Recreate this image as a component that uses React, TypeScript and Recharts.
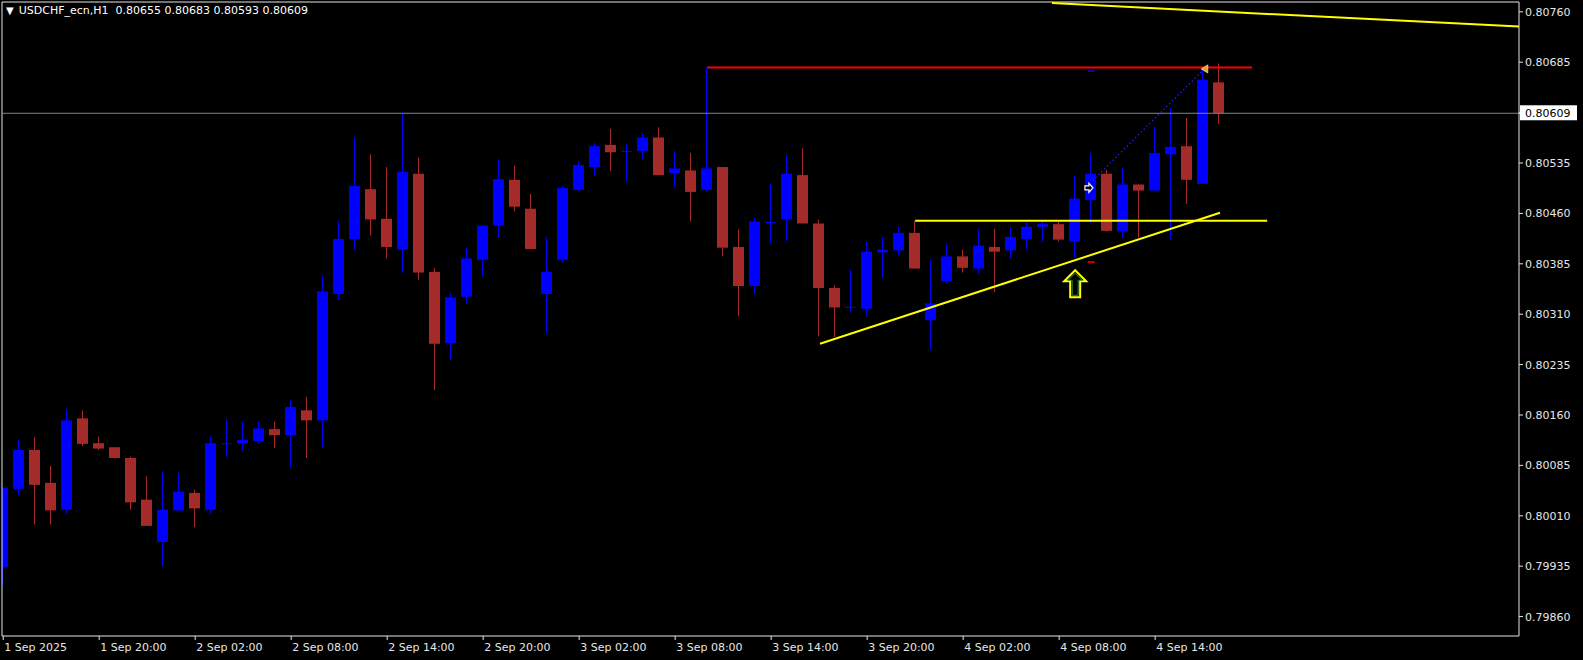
import * as React from "react";
import {
  Bar,
  ComposedChart,
  ReferenceDot,
  ReferenceLine,
  XAxis,
  YAxis,
} from "recharts";

// H1 candles, 1 Sep 14:00 .. 4 Sep 18:00
const opens = [
  0.79933, 0.8005, 0.80108, 0.80059, 0.80019, 0.80155, 0.80118, 0.80112, 0.80096, 0.80034,
  0.79971, 0.80018, 0.80044, 0.80019, 0.80117, 0.80118, 0.80121, 0.80139, 0.8013, 0.80167,
  0.80152, 0.8034, 0.80422, 0.80496, 0.80452, 0.80406, 0.80519, 0.80373, 0.80267, 0.80336,
  0.80391, 0.80442, 0.8051, 0.80467, 0.8034, 0.80391, 0.80495, 0.80529, 0.80562, 0.80552,
  0.80553, 0.80573, 0.8052, 0.80524, 0.80495, 0.80529, 0.8041, 0.80352, 0.80446, 0.80451,
  0.80517, 0.80445, 0.80349, 0.8032, 0.80318, 0.80402, 0.80405, 0.80431, 0.80301, 0.80359,
  0.80396, 0.80378, 0.8041, 0.80405, 0.80422, 0.8044, 0.80444, 0.80418, 0.8048, 0.80519,
  0.80433, 0.80503, 0.80494, 0.80548, 0.8056, 0.80504, 0.80655,
];
const highs = [
  0.80052, 0.80123, 0.80127, 0.80084, 0.80169, 0.80167, 0.80128, 0.80112, 0.80098, 0.80069,
  0.80075, 0.80074, 0.80049, 0.80128, 0.80154, 0.8015, 0.8015, 0.8015, 0.80182, 0.80187,
  0.80367, 0.80449, 0.80573, 0.80548, 0.80529, 0.80608, 0.80543, 0.80379, 0.80342, 0.80409,
  0.80443, 0.80541, 0.80531, 0.80489, 0.80425, 0.80501, 0.80538, 0.80565, 0.80586, 0.80563,
  0.8058, 0.80588, 0.80553, 0.8055, 0.80677, 0.80529, 0.80436, 0.80453, 0.80504, 0.80547,
  0.80557, 0.80451, 0.80353, 0.80376, 0.80418, 0.80425, 0.8044, 0.80449, 0.80391, 0.80415,
  0.80406, 0.80437, 0.80437, 0.8044, 0.80447, 0.8045, 0.80447, 0.80516, 0.8055, 0.80525,
  0.80528, 0.80503, 0.80589, 0.80617, 0.80602, 0.80674, 0.80683,
];
const lows = [
  0.79907, 0.80041, 0.79997, 0.79997, 0.80013, 0.80114, 0.80108, 0.80096, 0.80019, 0.79995,
  0.79935, 0.80018, 0.79993, 0.80013, 0.80098, 0.80107, 0.80117, 0.80111, 0.80081, 0.80096,
  0.80112, 0.80332, 0.80406, 0.80427, 0.80393, 0.80372, 0.80361, 0.80197, 0.80242, 0.80325,
  0.80366, 0.80424, 0.80463, 0.80407, 0.80282, 0.80387, 0.80493, 0.80517, 0.80523, 0.80508,
  0.80541, 0.80517, 0.80499, 0.80448, 0.80492, 0.80396, 0.80307, 0.8034, 0.80415, 0.80419,
  0.80445, 0.80277, 0.80276, 0.80313, 0.80307, 0.80364, 0.80398, 0.80378, 0.80258, 0.80355,
  0.80372, 0.8037, 0.80343, 0.80393, 0.80407, 0.80418, 0.80418, 0.80394, 0.80446, 0.80433,
  0.80424, 0.80424, 0.80494, 0.80421, 0.80474, 0.80504, 0.80593,
];
const closes = [
  0.80052, 0.80108, 0.80056, 0.80018, 0.80152, 0.80117, 0.8011, 0.80096, 0.8003, 0.79995,
  0.80019, 0.80046, 0.80021, 0.80118, 0.80118, 0.80123, 0.8014, 0.8013, 0.80172, 0.80152,
  0.80344, 0.80422, 0.80501, 0.80451, 0.8041, 0.80522, 0.80372, 0.80266, 0.80335, 0.80393,
  0.80442, 0.80511, 0.8047, 0.80407, 0.80373, 0.80498, 0.80532, 0.8056, 0.80551, 0.80553,
  0.80573, 0.80517, 0.80527, 0.80492, 0.80527, 0.80409, 0.80352, 0.80448, 0.80447, 0.80519,
  0.80445, 0.80349, 0.8032, 0.80321, 0.80403, 0.80406, 0.80431, 0.80378, 0.80326, 0.80396,
  0.80379, 0.80412, 0.80403, 0.80425, 0.8044, 0.80444, 0.80421, 0.80482, 0.80519, 0.80434,
  0.80503, 0.80494, 0.8055, 0.80559, 0.8051, 0.80659, 0.80609,
];

const timeLabels = [
  "1 Sep 2025", "1 Sep 20:00", "2 Sep 02:00", "2 Sep 08:00", "2 Sep 14:00", "2 Sep 20:00",
  "3 Sep 02:00", "3 Sep 08:00", "3 Sep 14:00", "3 Sep 20:00", "4 Sep 02:00", "4 Sep 08:00",
  "4 Sep 14:00",
];
const timeTickIdx = [0, 6, 12, 18, 24, 30, 36, 42, 48, 54, 60, 66, 72];

const priceTicks = [
  0.8076, 0.80685, 0.8061, 0.80535, 0.8046, 0.80385, 0.8031, 0.80235, 0.8016, 0.80085,
  0.8001, 0.79935, 0.7986,
];
const lastPrice = 0.80609;

// drawn objects (bar index, price)
const supportLine = [{ x: 51.05, y: 0.80266 }, { x: 76.05, y: 0.80461 }];
const upperLine = [{ x: 65.55, y: 0.80773 }, { x: 94.74, y: 0.80738 }];
const resistLine = [{ x: 57, y: 0.80449 }, { x: 79, y: 0.80449 }];
const highLine = [{ x: 44, y: 0.80677 }, { x: 78.05, y: 0.80677 }];
const tradeLine = [{ x: 68.1, y: 0.80509 }, { x: 74.99, y: 0.80673 }];
const buyArrow = { x: 67, y: 0.80356 };
const openMark = { x: 67.86, y: 0.80498 };
const closeMark = { x: 75.1, y: 0.80675 };
const slMark = { x: 68, y: 0.80388 };
const tpMark = { x: 68, y: 0.80672 };

const candles = opens.map((o, i) => ({
  i,
  o,
  h: highs[i],
  l: lows[i],
  c: closes[i],
  range: [lows[i], highs[i]],
}));

const BULL = "#0000ff";
const BEAR = "#a52a2a";
const AXIS = "#e6e6e6";
const FONT = "'DejaVu Sans', sans-serif";

function Candle(props: any) {
  const { x, y, width, height, payload } = props;
  if (!payload || height == null) return null;
  const { o, h, l, c } = payload;
  const color = c >= o ? BULL : BEAR;
  const k = h > l ? height / (h - l) : 0;
  const yo = y + (h - o) * k;
  const yc = y + (h - c) * k;
  const top = Math.min(yo, yc);
  const bh = Math.max(1, Math.abs(yo - yc));
  const cx = Math.floor(x + width / 2) + 0.5;
  return (
    <g>
      <line x1={cx} x2={cx} y1={y} y2={y + height} stroke={color} strokeWidth={1} />
      <rect x={cx - 5.5} y={top} width={11} height={bh} fill={color} />
    </g>
  );
}

function PriceTick(props: any) {
  const { x, y, payload } = props;
  const v = payload.value;
  const isLast = Math.abs(v - lastPrice) < 1e-7;
  return (
    <g>
      {isLast && <rect x={x - 6} y={y - 8} width={57} height={15} fill="#ffffff" />}
      <text x={x - 1} y={y + 4} fill={isLast ? "#000000" : AXIS} fontSize={11} fontFamily={FONT}>
        {v.toFixed(5)}
      </text>
    </g>
  );
}

function TimeTick(props: any) {
  const { x, y, payload, index } = props;
  return (
    <text x={x + 1} y={y + 9} fill={AXIS} fontSize={11} fontFamily={FONT}>
      {timeLabels[index] ?? String(payload.value)}
    </text>
  );
}

function UpArrow(props: any) {
  const { cx, cy } = props;
  const t = cy - 13;
  const d = `M${cx},${t} L${cx + 11},${t + 11} L${cx + 5},${t + 11} L${cx + 5},${t + 27} L${cx - 5},${t + 27} L${cx - 5},${t + 11} L${cx - 11},${t + 11} Z`;
  const d2 = `M${cx},${t + 3} L${cx + 7},${t + 10} L${cx + 3},${t + 10} L${cx + 3},${t + 25} L${cx - 3},${t + 25} L${cx - 3},${t + 10} L${cx - 7},${t + 10} Z`;
  return (
    <g>
      <path d={d} fill="#000" stroke="#ffff00" strokeWidth={2} />
      <path d={d2} fill="none" stroke="#2e8b2e" strokeWidth={1} />
    </g>
  );
}

function OpenMark(props: any) {
  const { cx, cy } = props;
  const d = `M${cx - 4},${cy - 2} L${cx},${cy - 2} L${cx},${cy - 4.5} L${cx + 4},${cy} L${cx},${cy + 4.5} L${cx},${cy + 2} L${cx - 4},${cy + 2} Z`;
  return <path d={d} fill="#000" stroke="#ffffff" strokeWidth={1.2} />;
}

function CloseMark(props: any) {
  const { cx, cy } = props;
  const d = `M${cx - 3.5},${cy} L${cx + 3},${cy - 4} L${cx + 3},${cy + 4} Z`;
  return <path d={d} fill="#daa520" stroke="#f5deb3" strokeWidth={0.8} />;
}

function Dash(color: string) {
  return (props: any) => {
    const { cx, cy } = props;
    return <rect x={cx - 3.5} y={cy - 0.5} width={7} height={1.5} fill={color} />;
  };
}

if (typeof document !== "undefined") {
  document.body.style.margin = "0";
  document.body.style.background = "#000";
}

export default function App() {
  return (
    <div style={{ position: "absolute", left: 0, top: 0, width: 1583, height: 660, background: "#000" }}>
      <ComposedChart
        width={1583}
        height={660}
        data={candles}
        margin={{ top: 2, right: 0, bottom: 0, left: 2 }}
      >
        <XAxis
          dataKey="i"
          type="number"
          domain={[-0.075, 94.74]}
          allowDataOverflow
          ticks={timeTickIdx}
          interval={0}
          height={24}
          axisLine={{ stroke: AXIS }}
          tickLine={{ stroke: AXIS }}
          tickSize={4}
          tickMargin={2}
          tick={<TimeTick />}
        />
        <YAxis
          orientation="right"
          type="number"
          domain={[0.798311, 0.807746]}
          allowDataOverflow
          ticks={[...priceTicks, lastPrice]}
          interval={0}
          width={64}
          axisLine={{ stroke: AXIS }}
          tickLine={{ stroke: AXIS }}
          tickSize={4}
          tickMargin={3}
          tick={<PriceTick />}
        />
        <ReferenceLine x={-0.075} stroke={AXIS} ifOverflow="visible" />
        <ReferenceLine y={0.807746} stroke={AXIS} ifOverflow="visible" />
        <ReferenceLine y={lastPrice} stroke="#778899" strokeWidth={1} />
        <Bar dataKey="range" barSize={11} shape={<Candle />} isAnimationActive={false} />
        <ReferenceLine segment={highLine} stroke="#ff0000" strokeWidth={2} ifOverflow="hidden" />
        <ReferenceLine segment={resistLine} stroke="#ffff00" strokeWidth={2} ifOverflow="hidden" />
        <ReferenceLine segment={supportLine} stroke="#ffff00" strokeWidth={2} ifOverflow="hidden" />
        <ReferenceLine segment={upperLine} stroke="#ffff00" strokeWidth={2} ifOverflow="hidden" />
        <ReferenceLine
          segment={tradeLine}
          stroke="#1a1aff"
          strokeWidth={1.3}
          strokeDasharray="1.5 2.5"
          ifOverflow="hidden"
        />
        <ReferenceDot x={buyArrow.x} y={buyArrow.y} r={1} shape={UpArrow} />
        <ReferenceDot x={openMark.x} y={openMark.y} r={1} shape={OpenMark} />
        <ReferenceDot x={closeMark.x} y={closeMark.y} r={1} shape={CloseMark} />
        <ReferenceDot x={slMark.x} y={slMark.y} r={1} shape={Dash("#ff0000")} />
        <ReferenceDot x={tpMark.x} y={tpMark.y} r={1} shape={Dash("#0000ff")} />
      </ComposedChart>
      <div
        style={{
          position: "absolute",
          left: 6,
          top: 4,
          color: "#ffffff",
          fontFamily: FONT,
          fontSize: 11,
          whiteSpace: "pre",
          lineHeight: "14px",
        }}
      >
        <span style={{ fontSize: 10, marginRight: 5 }}>▼</span>
        {"USDCHF_ecn,H1  0.80655 0.80683 0.80593 0.80609"}
      </div>
    </div>
  );
}
